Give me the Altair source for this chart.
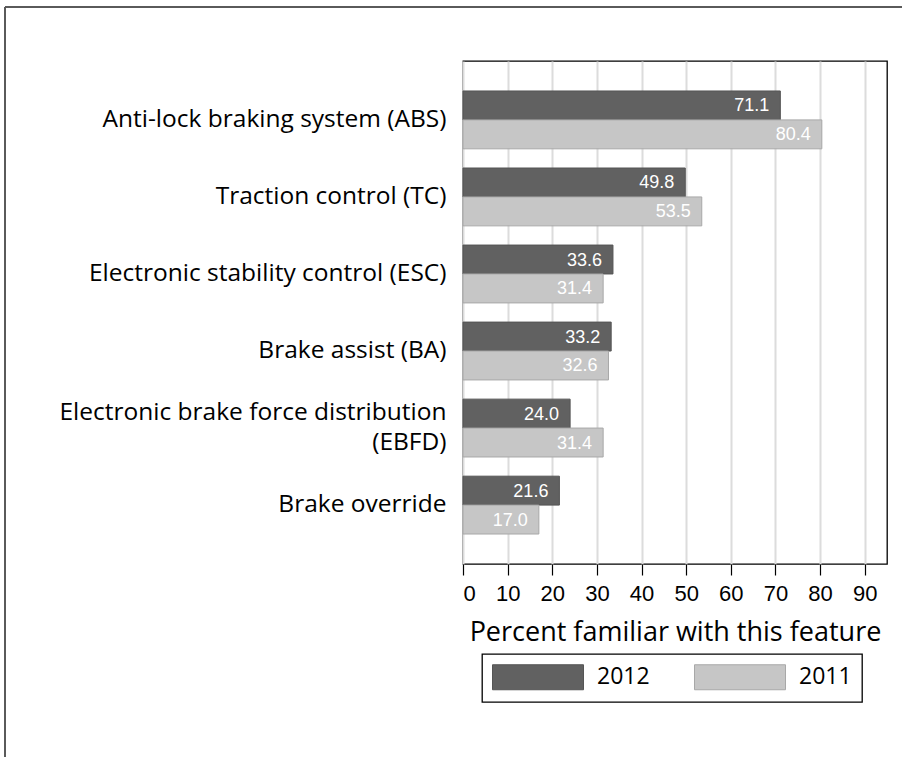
import altair as alt
import pandas as pd

categories = [
    "Anti-lock braking system (ABS)",
    "Traction control (TC)",
    "Electronic stability control (ESC)",
    "Brake assist (BA)",
    "Electronic brake force distribution (EBFD)",
    "Brake override",
]
years = ["2012", "2011"]
values_2012 = [71.1, 49.8, 33.6, 33.2, 24.0, 21.6]
values_2011 = [80.4, 53.5, 31.4, 32.6, 31.4, 17.0]
x_ticks = [0, 10, 20, 30, 40, 50, 60, 70, 80, 90]

rows = []
for c, a, b in zip(categories, values_2012, values_2011):
    rows.append({"feature": c, "year": "2012", "pct": a})
    rows.append({"feature": c, "year": "2011", "pct": b})
df = pd.DataFrame(rows)

W, H = 424, 503
PL, PT = 463, 61

ebfd = "Electronic brake force distribution (EBFD)"
label_expr = (
    f"datum.value == '{ebfd}' ? "
    "['Electronic brake force distribution\u00a0', '(EBFD)'] : datum.value"
)

y_enc = alt.Y(
    "feature:N",
    sort=categories,
    scale=alt.Scale(paddingInner=0.249, paddingOuter=0.389),
    axis=alt.Axis(
        title=None, ticks=False, domain=False, labelFont="Open Sans",
        labelFontSize=24.5, labelColor="black", labelPadding=17,
        labelLimit=500, labelExpr=label_expr, labelLineHeight=30,
        labelOffset={"condition": {"test": f"datum.value == '{ebfd}'", "value": -15}, "value": 0},
    ),
)
yoff = alt.YOffset("year:N", sort=years, scale=alt.Scale(domain=years, paddingInner=0, paddingOuter=0))
x_enc = alt.X(
    "pct:Q",
    scale=alt.Scale(domain=[0, 95], nice=False),
    axis=alt.Axis(
        values=x_ticks, title="Percent familiar with this feature",
        titleFont="Open Sans", titleFontSize=27, titleFontWeight="normal",
        titleColor="black", titlePadding=15,
        labelFont="Liberation Sans", labelFontSize=22, labelColor="black",
        labelPadding=8, tickSize=11, tickColor="black", tickWidth=1.2,
        domain=False, grid=True, gridColor="#dcdcdc", gridWidth=2,
    ),
)

color = alt.Color(
    "year:N",
    scale=alt.Scale(domain=years, range=["#616161", "#c6c6c6"]),
    legend=alt.Legend(
        title=None, orient="none", legendX=19, legendY=593,
        direction="horizontal",
        symbolType="M-3.64,-1H3.64V1H-3.64Z", symbolSize=625,
        symbolOffset=33,
        symbolStrokeWidth=1, symbolStrokeColor="#a8a8a8",
        labelFont="Open Sans", labelFontSize=23, labelColor="black",
        labelOffset=46, columnPadding=42, padding=10,
        strokeColor="black", labelExpr="datum.label + '\u2002\u2002'",
    ),
)

base = alt.Chart(df)
bars = base.mark_bar(strokeWidth=1).encode(
    y=y_enc, yOffset=yoff, x=x_enc, color=color,
    stroke=alt.Stroke("year:N", scale=alt.Scale(domain=years, range=["#555555", "#a8a8a8"]), legend=None),
)
labels = base.mark_text(
    align="right", baseline="middle", dx=-11, dy=1,
    font="Liberation Sans", fontSize=18, color="white",
).encode(
    y=alt.Y("feature:N", sort=categories), yOffset=yoff,
    x="pct:Q", text=alt.Text("pct:Q", format=".1f"),
)

frame_df = pd.DataFrame({"k": [0]})
top_line = alt.Chart(frame_df).mark_rule(color="#5a5a5a", strokeWidth=2).encode(
    x=alt.value(5 - PL), x2=alt.value(902 - PL), y=alt.value(7 - PT)
)
left_line = alt.Chart(frame_df).mark_rule(color="#5a5a5a", strokeWidth=2).encode(
    x=alt.value(5 - PL), y=alt.value(7 - PT), y2=alt.value(757 - PT)
)

chart = alt.layer(bars, labels, top_line, left_line).properties(
    width=W, height=H,
    autosize=alt.AutoSizeParams(type="none"),
    padding={"left": PL, "top": PT, "right": 902 - PL - W, "bottom": 757 - PT - H},
).configure_view(stroke="black", strokeWidth=1.3).configure_legend(strokeWidth=1.3)

chart.save("out.html", embed_options={"renderer": "svg", "actions": False})
